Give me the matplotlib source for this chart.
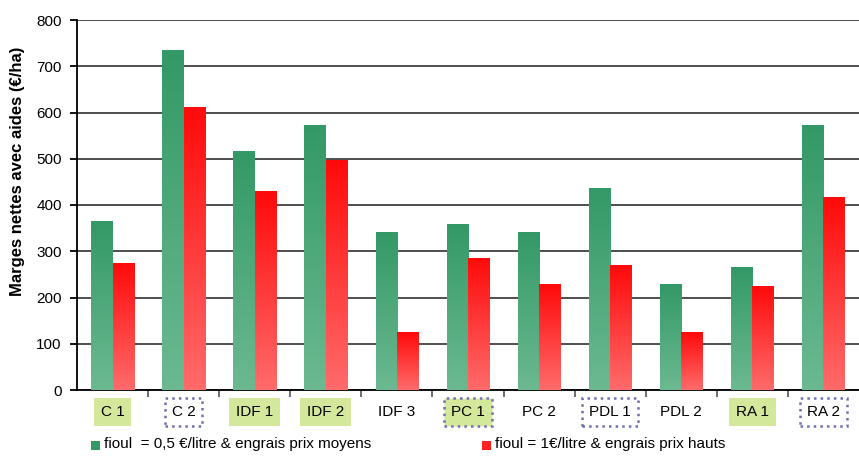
import numpy as np
import matplotlib
matplotlib.use("Agg")
from matplotlib import pyplot as plt
from matplotlib.colors import LinearSegmentedColormap
from matplotlib.patches import Rectangle

plt.rcParams["font.family"] = ["Liberation Sans", "DejaVu Sans"]

categories = ["C 1", "C 2", "IDF 1", "IDF 2", "IDF 3", "PC 1", "PC 2", "PDL 1", "PDL 2", "RA 1", "RA 2"]
fioul_moyen = [365, 735, 517, 573, 342, 359, 342, 437, 229, 266, 573]
fioul_haut = [275, 612, 430, 497, 125, 285, 229, 270, 125, 225, 417]
# style du cadre des etiquettes : g = fond vert, d = pointille, gd = les deux
label_style = ["g", "d", "g", "g", "", "gd", "", "d", "", "g", "d"]

label_moyen = "fioul  = 0,5 €/litre & engrais prix moyens"
label_haut = "fioul = 1€/litre & engrais prix hauts"

green_cmap = LinearSegmentedColormap.from_list("g", ["#6cb991", "#339966"])
red_cmap = LinearSegmentedColormap.from_list("r", ["#ff6b6b", "#ff0a0a"])

fig = plt.figure(figsize=(8.59, 4.57), dpi=100)
ax = fig.add_axes([77 / 859, 1 - 390 / 457, 782 / 859, 370 / 457])

x = np.arange(len(categories))
w = 0.3
bars_g = ax.bar(x - w / 2, fioul_moyen, w, color="#339966", edgecolor="none", zorder=2)
bars_r = ax.bar(x + w / 2, fioul_haut, w, color="#ff0a0a", edgecolor="none", zorder=2)

grad = np.linspace(0, 1, 256).reshape(-1, 1)
for bars, cmap in [(bars_g, green_cmap), (bars_r, red_cmap)]:
    for b in bars:
        x0, y0 = b.get_x(), b.get_y()
        im = ax.imshow(grad, cmap=cmap, origin="lower", aspect="auto",
                       extent=[x0, x0 + b.get_width(), y0, y0 + b.get_height()], zorder=3)
        im.set_clip_path(b)

ax.set_xlim(-0.5, len(categories) - 0.5)
ax.set_ylim(0, 800)
ax.set_yticks(range(0, 801, 100))
ax.set_xticks(x[:-1] + 0.5)
ax.yaxis.grid(True, color="#404040", linewidth=1.3, zorder=1)
ax.set_axisbelow(True)
for s in ["top", "right"]:
    ax.spines[s].set_visible(False)
ax.spines["left"].set_linewidth(1.3)
ax.spines["bottom"].set_linewidth(1.3)
ax.tick_params(axis="y", length=5, width=1.3, labelsize=11, pad=6)
ax.tick_params(axis="x", length=5, width=1.3, color="#606060", labelbottom=False)
ax.set_ylabel("Marges nettes avec aides (€/ha)", fontsize=12, fontweight="bold")
ax.yaxis.set_label_coords(-0.066, 0.59)

for i, (cat, st) in enumerate(zip(categories, label_style)):
    fc = "#d4e89c" if "g" in st else "none"
    ec = "#7070b0" if "d" in st else "none"
    ls = ":" if "d" in st else "-"
    ax.text(i, -47, cat, ha="center", va="center", fontsize=11,
            bbox=dict(boxstyle="square,pad=0.45", fc=fc, ec=ec, ls=ls, lw=1.8),
            clip_on=False)

fig.patches.append(Rectangle((91 / 859, 1 - 450 / 457), 9 / 859, 9 / 457,
                             transform=fig.transFigure, fc="#339966", ec="none"))
fig.text(104 / 859, 1 - 444 / 457, label_moyen, fontsize=11, va="center")
fig.patches.append(Rectangle((482 / 859, 1 - 450 / 457), 9 / 859, 9 / 457,
                             transform=fig.transFigure, fc="#ff2020", ec="none"))
fig.text(495 / 859, 1 - 444 / 457, label_haut, fontsize=11, va="center")

fig.savefig("out.png", dpi=100)
